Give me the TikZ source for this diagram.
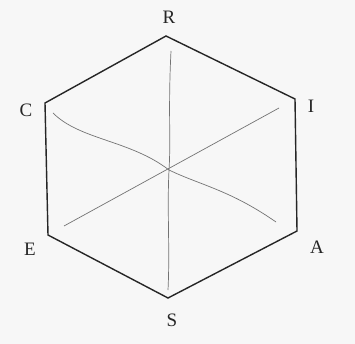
\documentclass[tikz,border=0pt]{standalone}
\usepackage{fontspec}
\setmainfont{Liberation Serif}
\usetikzlibrary{calc}

\begin{document}
\begin{tikzpicture}[
  x=1pt, y=-1pt,
  font=\fontsize{19}{22}\selectfont,
  edge/.style={line width=1.4pt, draw=black!85, line join=miter},
  axis/.style={line width=0.7pt, draw=black!55},
  letter/.style={inner sep=0pt, text=black!85}
]
\useasboundingbox[fill=black!3] (0,0) rectangle (355,344);

% vertices of the hexagon
\coordinate (vR) at (166,36);
\coordinate (vI) at (295,99);
\coordinate (vA) at (297,231);
\coordinate (vS) at (168,298);
\coordinate (vE) at (48,235);
\coordinate (vC) at (45,103);

\node[letter] (R) at (169,17) {R};
\node[letter] (I) at (311,106) {I};
\node[letter] (A) at (317,247) {A};
\node[letter] (S) at (172,320) {S};
\node[letter] (E) at (30,249) {E};
\node[letter] (C) at (26,110) {C};

\draw[edge] (vR) -- (vI) -- (vA) -- (vS) -- (vE) -- (vC) -- cycle;

% inner lines
\coordinate (rTop) at (171,51);
\coordinate (rBot) at (168,290);
\coordinate (iEnd) at (279,108);
\coordinate (eEnd) at (64,226);
\coordinate (cEnd) at (53,113);
\coordinate (aEnd) at (276,222);
\coordinate (mid) at (169,170);

\draw[axis] (rTop) .. controls (168,110) and (171,140) .. (mid)
  .. controls (167,210) and (170,250) .. (rBot);
\draw[axis] (iEnd) -- (eEnd);
\draw[axis] (cEnd) .. controls (80,140) and (130,140) .. (mid)
  .. controls (200,185) and (230,190) .. (aEnd);

\end{tikzpicture}
\end{document}
